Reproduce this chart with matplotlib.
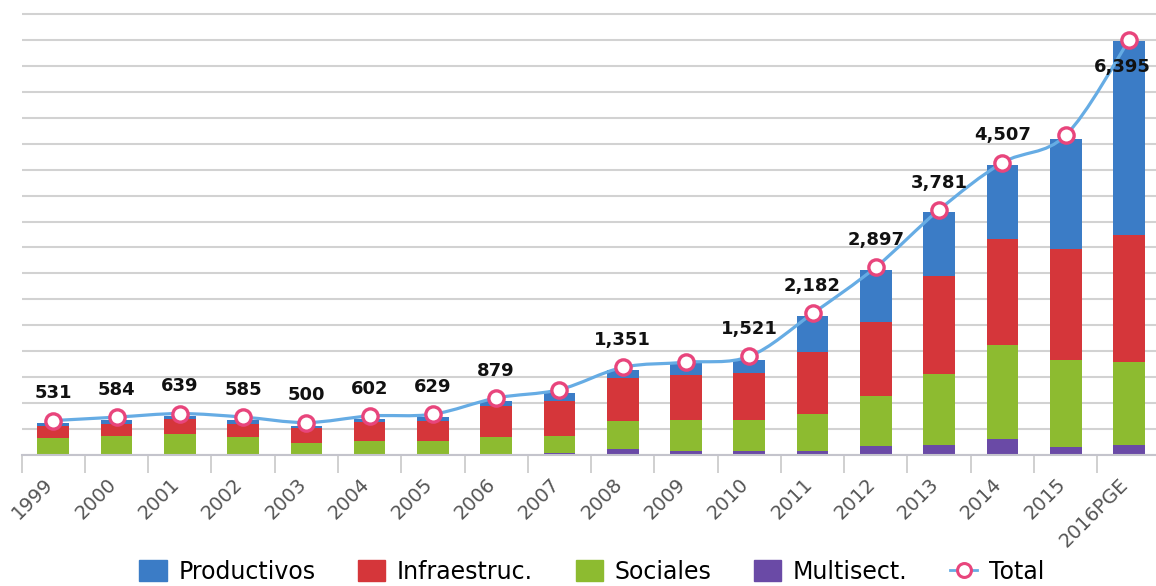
import numpy as np
import matplotlib.pyplot as plt
import matplotlib.transforms as mtransforms
from matplotlib.path import Path
from matplotlib.patches import PathPatch
from matplotlib.lines import Line2D
from matplotlib.patches import Patch

years = ['1999', '2000', '2001', '2002', '2003', '2004', '2005', '2006', '2007',
         '2008', '2009', '2010', '2011', '2012', '2013', '2014', '2015', '2016PGE']
multisect = [0, 0, 23, 23, 0, 0, 0, 0, 35, 93, 56, 56, 56, 143, 154, 242, 119, 154]
sociales = [267, 293, 299, 258, 180, 220, 220, 282, 262, 426, 484, 484, 577, 760, 1095, 1454, 1346, 1284]
infraestruc = [180, 180, 231, 196, 241, 282, 308, 467, 540, 663, 699, 719, 961, 1141, 1511, 1635, 1712, 1954]
productivos = [51, 62, 51, 62, 26, 52, 62, 88, 119, 134, 180, 211, 544, 813, 982, 1141, 1696, 2996]
total = [531, 584, 639, 585, 500, 602, 629, 879, 1008, 1351, 1430, 1521, 2182, 2897, 3781, 4507, 4930, 6395]
labels = ['531', '584', '639', '585', '500', '602', '629', '879', '', '1,351', '', '1,521',
          '2,182', '2,897', '3,781', '4,507', '', '6,395']

c_prod = '#3B7CC6'
c_infra = '#D5363A'
c_soc = '#8DBB30'
c_multi = '#6A4AA6'
c_line = '#66ACE4'
c_mark = '#E8457C'

fig = plt.figure(figsize=(11.56, 5.86), dpi=100)
ax = fig.add_axes([21.6 / 1156, 131 / 586, 1139 / 1156, 455 / 586])

x = np.arange(len(years))
w = 0.5
b1 = np.array(multisect)
b2 = b1 + np.array(sociales)
b3 = b2 + np.array(infraestruc)
ax.bar(x, multisect, w, color=c_multi, zorder=2)
ax.bar(x, sociales, w, bottom=b1, color=c_soc, zorder=2)
ax.bar(x, infraestruc, w, bottom=b2, color=c_infra, zorder=2)
ax.bar(x, productivos, w, bottom=b3, color=c_prod, zorder=2)

# smooth line (catmull-rom as bezier path)
pts = np.column_stack([x, total]).astype(float)
verts = [pts[0]]
codes = [Path.MOVETO]
n = len(pts)
for i in range(n - 1):
    p0 = pts[max(i - 1, 0)]
    p1 = pts[i]
    p2 = pts[i + 1]
    p3 = pts[min(i + 2, n - 1)]
    verts += [p1 + (p2 - p0) / 6, p2 - (p3 - p1) / 6, p2]
    codes += [Path.CURVE4] * 3
ax.add_patch(PathPatch(Path(verts, codes), fill=False, edgecolor=c_line, lw=2.3, zorder=3))
ax.plot(x, total, ls='none', marker='o', ms=11, mfc='white', mec=c_mark, mew=2.4, zorder=4)

for i, lab in enumerate(labels):
    if not lab:
        continue
    if i == len(labels) - 1:
        off = (-5, -23)
    else:
        off = (0, 16)
    ax.annotate(lab, (x[i], total[i]), xytext=off, textcoords='offset points',
                ha='center', va='baseline', fontsize=13, fontweight='bold', color='#111111', zorder=5)

ax.set_xlim(-0.5, len(years) - 0.5)
ax.set_ylim(0, 7016)
ax.set_yticks(np.arange(0, 7001, 400))
ax.yaxis.grid(True, color='#D2D2D2', lw=1.5, zorder=0)
ax.tick_params(axis='y', length=0, labelleft=False)
for s in ['top', 'right', 'left']:
    ax.spines[s].set_visible(False)
ax.spines['bottom'].set_color('#C4C4CC')
ax.spines['bottom'].set_linewidth(1.5)

ax.set_xticks(x)
ax.set_xticklabels(years, rotation=45, ha='right', rotation_mode='anchor',
                   fontsize=14, color='#555555')
ax.tick_params(axis='x', which='major', length=0, pad=14)
shift = mtransforms.ScaledTranslation(-10 / 100, 0, fig.dpi_scale_trans)
for t in ax.get_xticklabels():
    t.set_transform(t.get_transform() + shift)
ax.set_xticks(np.arange(-0.5, len(years), 1), minor=True)
ax.tick_params(axis='x', which='minor', length=13, width=1.2, color='#C8C8C8')

handles = [Patch(color=c_prod), Patch(color=c_infra), Patch(color=c_soc), Patch(color=c_multi),
           Line2D([], [], color=c_line, lw=2, marker='o', ms=10, mfc='white', mec=c_mark, mew=2.2)]
fig.legend(handles, ['Productivos', 'Infraestruc.', 'Sociales', 'Multisect.', 'Total'],
           loc='center', bbox_to_anchor=(0.512, 0.024), ncol=5, frameon=False,
           fontsize=17, handlelength=1.15, handleheight=1.0, columnspacing=1.8, handletextpad=0.5)

fig.savefig('out.png', dpi=100)
